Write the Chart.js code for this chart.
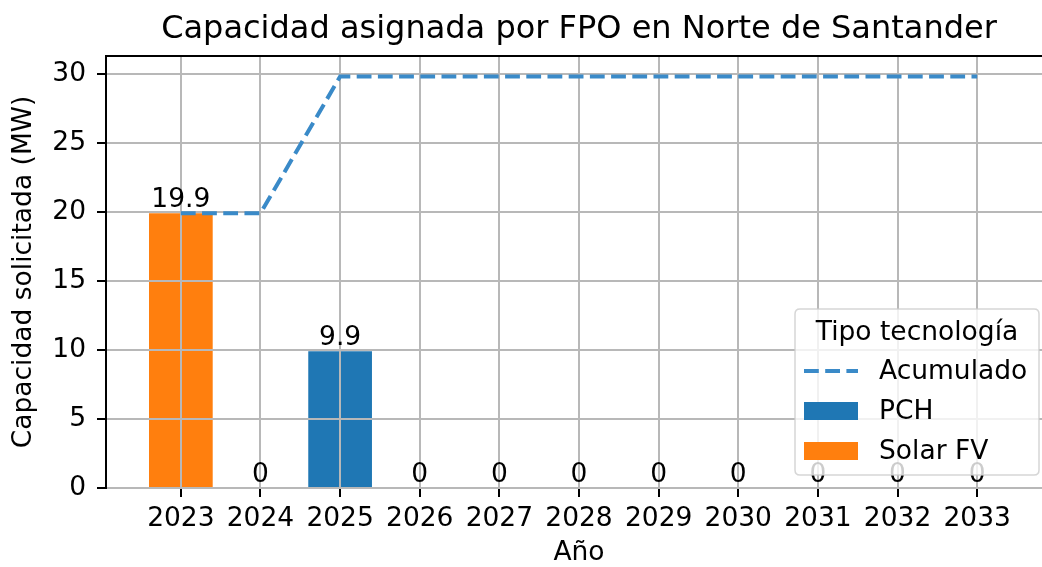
<!DOCTYPE html>
<html>
<head>
<meta charset="utf-8">
<script src="https://cdn.jsdelivr.net/npm/chart.js@4/dist/chart.umd.min.js"></script>
<style>
  html, body { margin: 0; padding: 0; background: #fff; overflow: hidden; }
  #wrap { width: 1052px; height: 567px; position: relative; }
</style>
</head>
<body>
<div id="wrap"><canvas id="chart"></canvas></div>
<script>
const years = ['2023', '2024', '2025', '2026', '2027', '2028', '2029', '2030', '2031', '2032', '2033'];
const pch = [0, 0, 9.9, 0, 0, 0, 0, 0, 0, 0, 0];
const solarFV = [19.9, 0, 0, 0, 0, 0, 0, 0, 0, 0, 0];
const acumulado = [19.9, 19.9, 29.8, 29.8, 29.8, 29.8, 29.8, 29.8, 29.8, 29.8, 29.8];
const yTicks = [0, 5, 10, 15, 20, 25, 30];

const FONT = 'DejaVu Sans';
Chart.defaults.font.family = FONT;
Chart.defaults.color = '#000';

const toXY = arr => arr.map((v, i) => ({ x: i, y: v }));

// grid over bars but under the line, like matplotlib
const gridOverBars = {
	id: 'gridOverBars',
	beforeDatasetDraw(chart, args) {
		if (args.meta.type === 'line') {
			chart.scales.x.drawGrid(chart.chartArea);
			chart.scales.y.drawGrid(chart.chartArea);
		}
	}
};

const barLabels = {
	id: 'barLabels',
	afterDatasetsDraw(chart) {
		const ctx = chart.ctx;
		const xs = chart.scales.x, ys = chart.scales.y;
		ctx.save();
		ctx.font = '26.5px ' + FONT;
		ctx.fillStyle = '#000';
		ctx.textAlign = 'center';
		ctx.textBaseline = 'alphabetic';
		years.forEach((y, i) => {
			const total = pch[i] + solarFV[i];
			const txt = String(Math.round(total * 10) / 10);
			ctx.fillText(txt, xs.getPixelForValue(i), ys.getPixelForValue(total) - 6);
		});
		ctx.restore();
	}
};

function roundRect(ctx, x, y, w, h, r) {
	ctx.beginPath();
	ctx.moveTo(x + r, y);
	ctx.lineTo(x + w - r, y);
	ctx.quadraticCurveTo(x + w, y, x + w, y + r);
	ctx.lineTo(x + w, y + h - r);
	ctx.quadraticCurveTo(x + w, y + h, x + w - r, y + h);
	ctx.lineTo(x + r, y + h);
	ctx.quadraticCurveTo(x, y + h, x, y + h - r);
	ctx.lineTo(x, y + r);
	ctx.quadraticCurveTo(x, y, x + r, y);
	ctx.closePath();
}

const frameAndLegend = {
	id: 'frameAndLegend',
	afterDraw(chart) {
		const ctx = chart.ctx;
		const a = chart.chartArea;
		ctx.save();
		// top and right spines
		ctx.strokeStyle = '#000';
		ctx.lineWidth = 2;
		ctx.beginPath();
		ctx.moveTo(a.left - 1, a.top);
		ctx.lineTo(a.right, a.top);
		ctx.lineTo(a.right, a.bottom);
		ctx.stroke();

		// legend, lower right
		const w = 244, h = 166;
		const lx = a.right - 13 - w, ly = a.bottom - 13 - h;
		roundRect(ctx, lx, ly, w, h, 5);
		ctx.fillStyle = 'rgba(255,255,255,0.8)';
		ctx.fill();
		ctx.strokeStyle = 'rgba(204,204,204,0.8)';
		ctx.lineWidth = 1.5;
		ctx.stroke();

		ctx.font = '26.5px ' + FONT;
		ctx.fillStyle = '#000';
		ctx.textBaseline = 'middle';
		ctx.textAlign = 'center';
		ctx.fillText('Tipo tecnología', lx + w / 2, ly + 24);

		ctx.textAlign = 'left';
		const rows = [ly + 62, ly + 102, ly + 142];
		chart.data.datasets.forEach((ds, i) => {
			const cy = rows[i];
			if (ds.type === 'line') {
				ctx.strokeStyle = ds.borderColor;
				ctx.lineWidth = ds.borderWidth;
				ctx.setLineDash(ds.borderDash);
				ctx.beginPath();
				ctx.moveTo(lx + 9, cy);
				ctx.lineTo(lx + 63, cy);
				ctx.stroke();
				ctx.setLineDash([]);
			} else {
				ctx.fillStyle = ds.backgroundColor;
				ctx.fillRect(lx + 9, cy - 9, 54, 18);
			}
			ctx.fillStyle = '#000';
			ctx.fillText(ds.label, lx + 84, cy + 1);
		});
		ctx.restore();
	}
};

new Chart(document.getElementById('chart'), {
	data: {
		datasets: [{
			type: 'line',
			label: 'Acumulado',
			data: toXY(acumulado),
			borderColor: '#3a8ac8',
			borderWidth: 4,
			borderDash: [14.8, 6.4],
			pointRadius: 0,
			tension: 0,
			fill: false,
			stack: 'acum'
		}, {
			type: 'bar',
			label: 'PCH',
			data: toXY(pch),
			backgroundColor: '#1f77b4',
			borderWidth: 0,
			categoryPercentage: 0.8,
			barPercentage: 1.0,
			stack: 'tec'
		}, {
			type: 'bar',
			label: 'Solar FV',
			data: toXY(solarFV),
			backgroundColor: '#ff7f0e',
			borderWidth: 0,
			categoryPercentage: 0.8,
			barPercentage: 1.0,
			stack: 'tec'
		}]
	},
	options: {
		responsive: true,
		maintainAspectRatio: false,
		animation: false,
		events: [],
		layout: { padding: 0 },
		plugins: {
			legend: { display: false },
			tooltip: { enabled: false },
			title: {
				display: true,
				fullSize: false,
				text: 'Capacidad asignada por FPO en Norte de Santander',
				color: '#000',
				font: { size: 32, weight: 'normal', lineHeight: 1.2 },
				padding: { top: 10, bottom: 7.6 }
			}
		},
		scales: {
			x: {
				type: 'linear',
				stacked: true,
				offset: false,
				min: -0.94,
				max: 10.94,
				afterBuildTicks: s => { s.ticks = years.map((y, i) => ({ value: i })); },
				afterFit: s => { s.height = 79; },
				ticks: {
					callback: (v) => years[v],
					font: { size: 26.5 },
					color: '#000',
					padding: 6,
					maxRotation: 0,
					autoSkip: false
				},
				grid: { offset: false, color: '#b8b8b8', lineWidth: 2, tickColor: '#000', tickLength: 9, tickWidth: 2 },
				border: { display: true, color: '#000', width: 2 },
				title: { display: true, text: 'Año', font: { size: 26.5 }, color: '#000', padding: { top: 0, bottom: -2 } }
			},
			y: {
				stacked: true,
				min: 0,
				max: Math.max(...acumulado) * 1.05,
				afterBuildTicks: s => { s.ticks = yTicks.map(v => ({ value: v })); },
				afterFit: s => { s.width = 106; },
				ticks: { font: { size: 26.5 }, color: '#000', padding: 11 },
				grid: { color: '#b8b8b8', lineWidth: 2, tickColor: '#000', tickLength: 9, tickWidth: 2 },
				border: { display: true, color: '#000', width: 2 },
				title: { display: true, text: 'Capacidad solicitada (MW)', font: { size: 26.5 }, color: '#000', padding: { top: 8, bottom: 0 } }
			}
		}
	},
	plugins: [gridOverBars, barLabels, frameAndLegend]
});
</script>
</body>
</html>
